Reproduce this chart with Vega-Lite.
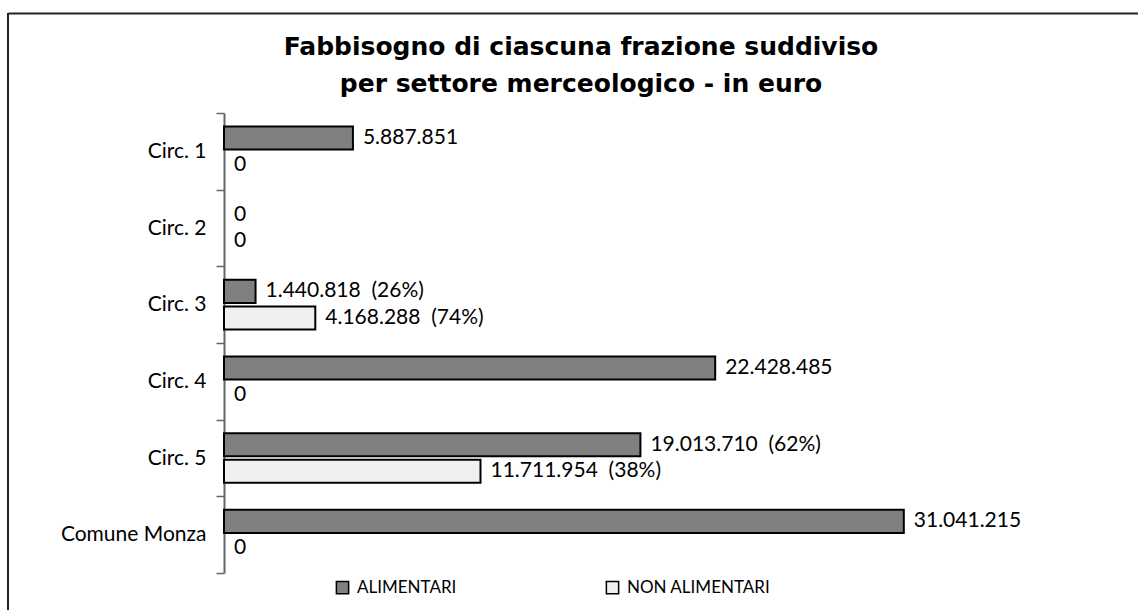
{
  "$schema": "https://vega.github.io/schema/vega-lite/v6.json",
  "width": 1130,
  "height": 597,
  "autosize": {"type": "none"},
  "padding": {"left": 8, "top": 13, "right": 0, "bottom": 0},
  "background": "white",
  "config": {"view": {"stroke": null}, "font": "Lato"},
  "title": {
    "text": ["Fabbisogno di ciascuna frazione suddiviso", "per settore merceologico - in euro"],
    "font": "DejaVu Sans",
    "fontSize": 25,
    "fontWeight": "bold",
    "lineHeight": 37,
    "anchor": "middle",
    "offset": -95,
    "dx": 8,
    "color": "black"
  },
  "data": {
    "values": [
      {"zona": "Circ. 1", "serie": "ALIMENTARI", "value": 5887851, "label": "5.887.851"},
      {"zona": "Circ. 1", "serie": "NON ALIMENTARI", "value": 0, "label": "0"},
      {"zona": "Circ. 2", "serie": "ALIMENTARI", "value": 0, "label": "0"},
      {"zona": "Circ. 2", "serie": "NON ALIMENTARI", "value": 0, "label": "0"},
      {"zona": "Circ. 3", "serie": "ALIMENTARI", "value": 1440818, "label": "1.440.818\u00a0 (26%)"},
      {"zona": "Circ. 3", "serie": "NON ALIMENTARI", "value": 4168288, "label": "4.168.288\u00a0 (74%)"},
      {"zona": "Circ. 4", "serie": "ALIMENTARI", "value": 22428485, "label": "22.428.485"},
      {"zona": "Circ. 4", "serie": "NON ALIMENTARI", "value": 0, "label": "0"},
      {"zona": "Circ. 5", "serie": "ALIMENTARI", "value": 19013710, "label": "19.013.710\u00a0 (62%)"},
      {"zona": "Circ. 5", "serie": "NON ALIMENTARI", "value": 11711954, "label": "11.711.954\u00a0 (38%)"},
      {"zona": "Comune Monza", "serie": "ALIMENTARI", "value": 31041215, "label": "31.041.215"},
      {"zona": "Comune Monza", "serie": "NON ALIMENTARI", "value": 0, "label": "0"}
    ]
  },
  "layer": [
    {
      "mark": {"type": "bar", "strokeWidth": 2},
      "encoding": {
        "y": {
          "field": "zona", "type": "nominal", "sort": null,
          "scale": {"range": [100, 560], "paddingInner": 0, "paddingOuter": 0},
          "axis": {
            "title": null, "orient": "left", "offset": -216,
            "domainColor": "#666", "domainWidth": 2,
            "tickColor": "#666", "tickWidth": 1.5, "tickSize": 8, "tickBand": "extent",
            "labelFontSize": 21, "labelFont": "Lato", "labelColor": "black",
            "labelPadding": 10, "grid": false, "labelLimit": 300
          }
        },
        "yOffset": {
          "field": "serie", "type": "nominal", "sort": null,
          "scale": {"paddingInner": 0.13, "paddingOuter": 0.51}
        },
        "x": {
          "field": "value", "type": "quantitative", "stack": null,
          "scale": {"domain": [-9863000, 41735000], "nice": false, "zero": false},
          "axis": {
            "orient": "top", "domain": true, "domainColor": "#222", "domainWidth": 2,
            "ticks": false, "labels": false, "grid": false, "title": null
          }
        },
        "color": {
          "field": "serie", "type": "nominal", "sort": null,
          "scale": {"domain": ["ALIMENTARI", "NON ALIMENTARI"], "range": ["#808080", "#f0f0f0"]},
          "legend": {
            "title": null, "orient": "none", "legendX": 326, "legendY": 566,
            "direction": "horizontal", "symbolType": "square", "symbolSize": 150,
            "symbolStrokeColor": "black", "symbolStrokeWidth": 1.5,
            "labelFontSize": 17, "labelFont": "Lato", "labelColor": "black",
            "labelOffset": 6, "columnPadding": 146, "padding": 0
          }
        },
        "stroke": {
          "condition": {"test": "datum.value === 0", "value": "transparent"},
          "value": "black"
        }
      }
    },
    {
      "mark": {"type": "text", "align": "left", "baseline": "middle", "dx": 10, "fontSize": 21, "font": "Lato", "color": "black"},
      "encoding": {
        "y": {"field": "zona", "type": "nominal", "sort": null},
        "yOffset": {"field": "serie", "type": "nominal", "sort": null},
        "x": {"field": "value", "type": "quantitative", "stack": null},
        "text": {"field": "label"}
      }
    },
    {
      "data": {"values": [{}]},
      "mark": {"type": "rule", "color": "#222", "strokeWidth": 2},
      "encoding": {
        "x": {"datum": -9863000, "type": "quantitative"}
      }
    }
  ]
}
